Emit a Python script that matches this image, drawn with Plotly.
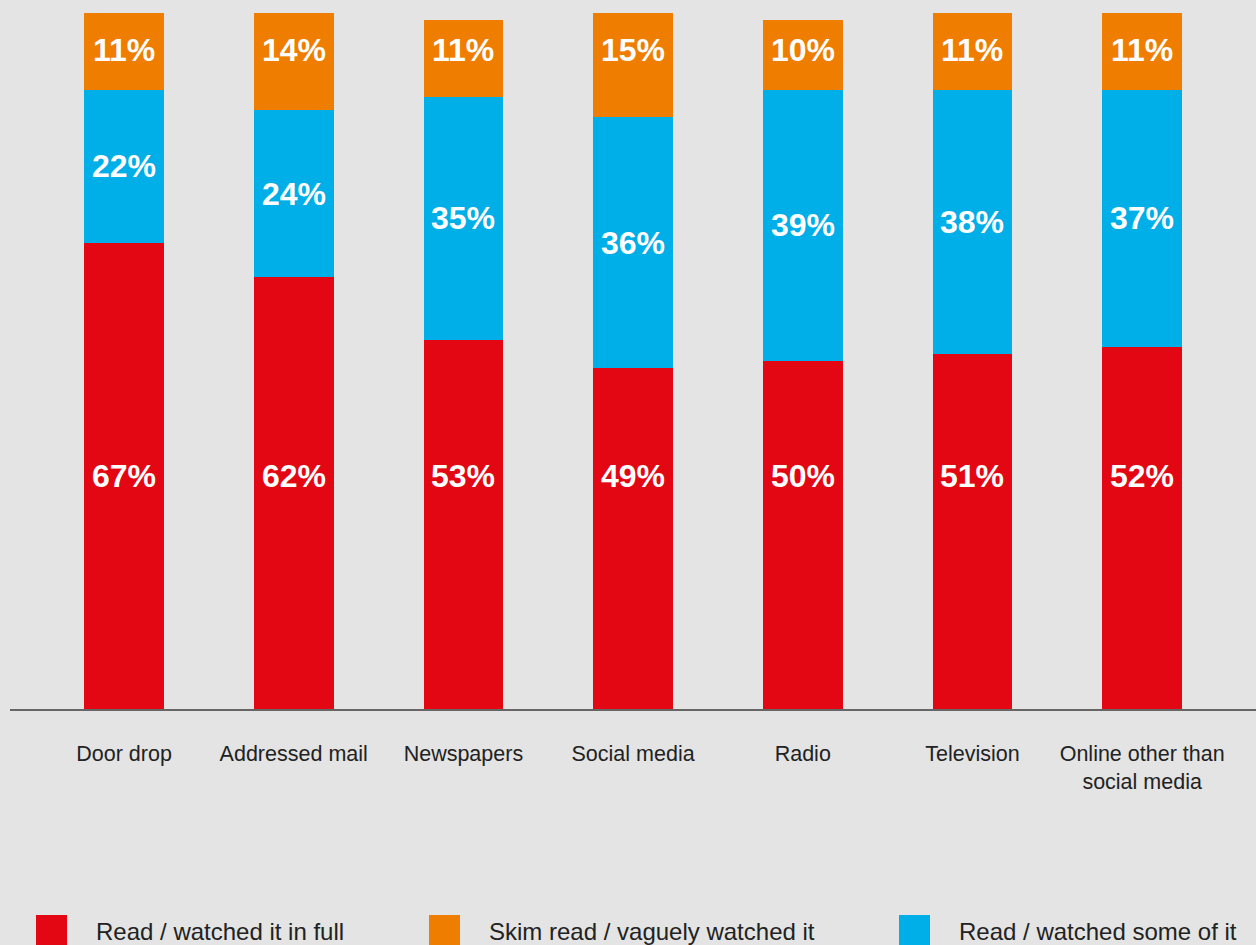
import plotly.graph_objects as go

# Media channels and how people engaged with them (% of respondents)
categories = ["Door drop", "Addressed mail", "Newspapers", "Social media",
              "Radio", "Television", "Online other than<br>social media"]
read_full = [67, 62, 53, 49, 50, 51, 52]
read_some = [22, 24, 35, 36, 39, 38, 37]
skim_read = [11, 14, 11, 15, 10, 11, 11]

series_names = ["Read / watched it in full", "Skim read / vaguely watched it",
                "Read / watched some of it"]

RED = "#E30613"
BLUE = "#00AEE8"
ORANGE = "#EF7D00"
BG = "#E3E4E3"
TEXT = "#222222"
FONT = "Liberation Sans, Arial, Helvetica, sans-serif"

fig = go.Figure()
stack = [(read_full, RED, series_names[0]),
         (read_some, BLUE, series_names[2]),
         (skim_read, ORANGE, series_names[1])]
for values, color, name in stack:
    fig.add_trace(go.Bar(
        x=categories, y=values, name=name, marker=dict(color=color, line=dict(width=0)),
        width=0.47, showlegend=False, hoverinfo="x+y+name",
    ))

# Percentage labels inside the stacked segments; the red and orange
# labels each sit on one common line, the blue ones mid-segment
annotations = []
RED_LABEL_Y = 33.5
ORANGE_LABEL_Y = 94.7
for i, cat in enumerate(categories):
    base = 0
    for j, (values, _, _) in enumerate(stack):
        v = values[i]
        if j == 0:
            y = RED_LABEL_Y
        elif j == 2:
            y = ORANGE_LABEL_Y
        else:
            y = base + v / 2
        annotations.append(dict(
            x=cat, y=y, xref="x", yref="y", text=f"{v}%", showarrow=False,
            font=dict(family=FONT, size=32, color="white", weight="bold"),
            xanchor="center", yanchor="middle",
        ))
        base += v

# Legend drawn as squares and text along the bottom
legend_items = [(series_names[0], RED, 36), (series_names[1], ORANGE, 429),
                (series_names[2], BLUE, 899)]
W, H = 1256, 945
shapes = []
for name, color, px in legend_items:
    shapes.append(dict(
        type="rect", xref="paper", yref="paper",
        x0=(px - 10) / 1246, x1=(px + 21) / 1246,
        y0=-(948 - 709) / 696, y1=-(915 - 709) / 696,
        fillcolor=color, line=dict(width=0), layer="above",
    ))
    annotations.append(dict(
        xref="paper", yref="paper", x=(px + 48) / 1246, y=-(932 - 709) / 696,
        text=name, showarrow=False, xanchor="left", yanchor="middle",
        font=dict(family=FONT, size=24, color=TEXT),
    ))

fig.update_layout(
    barmode="stack",
    width=W, height=H,
    margin=dict(l=10, r=0, t=13, b=236),
    paper_bgcolor=BG, plot_bgcolor=BG,
    font=dict(family=FONT, color=TEXT),
    xaxis=dict(
        type="category", range=[-0.672, 6.671],
        showline=True, linecolor="#666666", linewidth=2,
        showgrid=False, zeroline=False,
        ticks="outside", ticklen=24, tickcolor=BG,
        tickfont=dict(family=FONT, size=21.5, color=TEXT),
        fixedrange=True,
    ),
    yaxis=dict(range=[0, 100], visible=False, showgrid=False, zeroline=False,
               fixedrange=True),
    annotations=annotations,
    shapes=shapes,
    showlegend=False,
)

fig.write_html("out.html")
